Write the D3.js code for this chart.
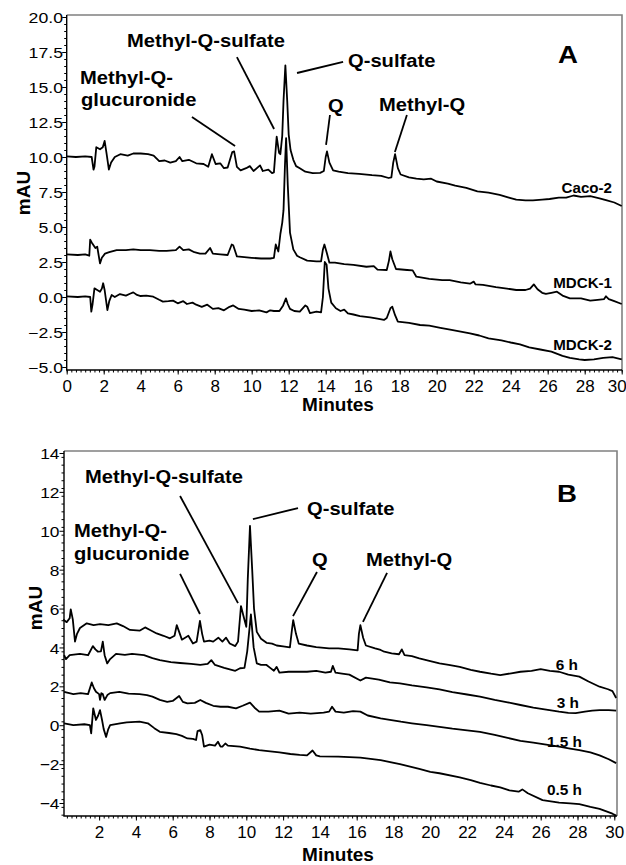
<!DOCTYPE html>
<html lang="en">
<head>
  <meta charset="UTF-8">
  <script src="https://d3js.org/d3.v7.min.js"></script>
  <title>Chromatograms</title>
  <style>
    body { margin: 0; background: #fff; }
    text { font-family: "Liberation Sans", Arial, sans-serif; fill: #000; }
  </style>
</head>
<body>
  <svg id="chart" width="626" height="865"></svg>
  <script>
    // ---- data: [minutes, mAU] ----
    const minuteTicksA = d3.range(0, 31, 2);
    const minuteTicksB = d3.range(2, 31, 2);
    const mauTicksA = [-5, -2.5, 0, 2.5, 5, 7.5, 10, 12.5, 15, 17.5, 20];
    const mauTicksB = [-4, -2, 0, 2, 4, 6, 8, 10, 12, 14];

    const caco2 = [[0,10.05],[0.5,10.0],[1.0,10.05],[1.35,10.0],[1.45,9.1],[1.5,9.3],[1.6,10.7],[1.8,10.55],[1.95,10.7],[2.05,11.15],[2.15,10.3],[2.28,9.1],[2.4,9.6],[2.6,10.0],[2.9,10.2],[3.3,10.1],[3.6,10.25],[4.0,10.25],[4.4,10.2],[4.7,10.1],[5.0,9.7],[5.3,9.75],[5.6,9.6],[5.9,9.7],[6.1,10.0],[6.25,9.7],[6.6,9.8],[7.0,9.55],[7.4,9.5],[7.65,9.3],[7.85,10.2],[8.05,9.5],[8.3,9.55],[8.5,9.2],[8.7,9.25],[8.95,10.35],[9.05,10.4],[9.2,9.3],[9.4,9.05],[9.7,9.2],[9.9,9.35],[10.1,9.0],[10.45,9.4],[10.6,9.0],[10.9,9.1],[11.1,8.85],[11.2,8.9],[11.35,11.45],[11.48,10.3],[11.55,10.2],[11.65,11.5],[11.72,14.0],[11.82,16.55],[11.92,14.0],[12.0,11.6],[12.1,10.5],[12.25,9.8],[12.4,9.35],[12.6,9.2],[12.9,8.95],[13.3,8.85],[13.7,8.87],[13.9,9.0],[14.0,10.0],[14.07,10.4],[14.2,9.6],[14.4,9.05],[14.7,8.95],[15.2,8.85],[15.8,8.8],[16.5,8.7],[17.0,8.65],[17.4,8.5],[17.55,8.55],[17.65,9.6],[17.75,10.2],[17.9,9.2],[18.05,8.75],[18.5,8.55],[18.9,8.45],[19.3,8.4],[19.7,8.45],[20.0,8.25],[20.6,8.1],[21.0,7.95],[21.6,7.8],[22.2,7.55],[22.8,7.45],[23.4,7.3],[23.9,7.1],[24.3,6.95],[24.8,6.9],[25.2,6.9],[25.7,6.95],[26.1,7.0],[26.6,7.1],[27.0,7.1],[27.4,7.25],[27.8,7.15],[28.3,7.2],[28.8,7.05],[29.2,6.9],[29.6,6.75],[30.0,6.5]];

    const mdck1 = [[0,3.05],[0.6,3.0],[1.0,3.05],[1.22,2.95],[1.27,4.1],[1.35,3.9],[1.55,3.5],[1.65,3.6],[1.8,2.4],[1.9,2.8],[2.07,3.1],[2.3,3.2],[2.7,3.35],[3.2,3.35],[3.6,3.4],[4.0,3.35],[4.5,3.35],[5.0,3.3],[5.4,3.3],[5.9,3.35],[6.1,3.6],[6.3,3.35],[6.6,3.4],[6.9,3.2],[7.2,3.1],[7.5,3.1],[7.75,3.5],[7.9,3.1],[8.3,3.05],[8.7,3.0],[8.92,3.75],[9.0,3.7],[9.2,2.9],[9.6,2.85],[10.0,2.8],[10.5,2.75],[11.0,2.75],[11.2,2.8],[11.3,3.75],[11.44,3.25],[11.55,4.5],[11.65,5.3],[11.72,6.2],[11.8,9.5],[11.86,11.35],[11.95,8.0],[12.07,4.6],[12.25,3.4],[12.45,2.95],[12.6,2.84],[13.0,2.6],[13.5,2.55],[13.75,2.55],[13.85,3.4],[13.93,3.75],[14.05,3.2],[14.2,2.45],[14.5,2.45],[15.0,2.35],[15.5,2.3],[16.2,2.16],[16.6,2.2],[16.8,1.95],[17.3,1.93],[17.42,2.6],[17.5,3.25],[17.6,2.7],[17.8,2.0],[18.4,1.93],[18.7,1.9],[18.9,1.45],[19.6,1.3],[20.3,1.2],[20.7,1.2],[21.3,1.05],[21.8,0.95],[22.0,1.1],[22.1,0.9],[22.5,0.86],[23.2,0.7],[23.8,0.6],[24.3,0.5],[24.8,0.5],[25.05,0.6],[25.25,0.9],[25.45,0.55],[25.7,0.3],[25.9,0.22],[26.2,0.3],[26.5,0.38],[26.8,0.1],[27.2,-0.1],[27.8,-0.1],[28.3,-0.26],[28.7,-0.2],[29.05,-0.15],[29.15,0.05],[29.3,-0.15],[29.6,-0.3],[30.0,-0.5]];

    const mdck2 = [[0,0.05],[0.6,0.0],[1.0,0.05],[1.27,0.0],[1.33,-1.05],[1.4,-0.5],[1.5,0.62],[1.65,0.5],[1.8,0.38],[1.9,0.6],[1.97,0.98],[2.05,0.5],[2.2,-0.93],[2.3,-0.3],[2.43,0.14],[2.6,0.0],[2.88,0.21],[3.2,0.1],[3.45,0.25],[3.6,0.33],[3.8,0.15],[4.0,0.07],[4.3,0.1],[4.68,0.02],[5.0,-0.2],[5.2,-0.33],[5.5,-0.3],[5.75,-0.26],[6.0,-0.45],[6.3,-0.3],[6.5,-0.5],[6.8,-0.4],[7.0,-0.55],[7.3,-0.7],[7.6,-0.55],[7.9,-0.85],[8.2,-0.8],[8.5,-0.95],[8.8,-0.7],[9.0,-0.6],[9.3,-0.85],[9.6,-0.9],[10.0,-1.0],[10.4,-0.95],[10.8,-1.1],[11.0,-0.95],[11.2,-1.0],[11.5,-1.0],[11.7,-0.6],[11.85,-0.1],[11.95,-0.5],[12.07,-0.85],[12.3,-1.0],[12.6,-1.05],[12.9,-0.6],[13.0,-0.69],[13.15,-1.15],[13.5,-1.05],[13.75,-1.1],[13.85,0.0],[13.95,2.5],[14.05,2.3],[14.15,0.6],[14.3,-0.4],[14.55,-0.8],[14.8,-1.0],[15.0,-0.9],[15.2,-1.17],[15.5,-1.25],[15.85,-1.36],[16.4,-1.45],[16.8,-1.55],[17.15,-1.64],[17.3,-1.5],[17.5,-0.8],[17.6,-0.69],[17.75,-1.3],[17.9,-1.76],[18.5,-1.85],[19.1,-2.0],[19.6,-2.05],[20.2,-2.2],[20.8,-2.35],[21.3,-2.48],[21.8,-2.6],[22.3,-2.75],[22.8,-2.95],[23.5,-3.1],[24.0,-3.25],[24.5,-3.38],[25.0,-3.6],[25.6,-3.75],[26.2,-3.9],[26.8,-4.2],[27.2,-4.35],[27.7,-4.45],[28.0,-4.5],[28.5,-4.45],[29.0,-4.35],[29.5,-4.3],[30.0,-4.45]];

    const sixH = [[0.05,5.44],[0.24,5.3],[0.4,5.5],[0.46,5.96],[0.57,5.44],[0.69,4.3],[0.8,4.7],[0.96,5.0],[1.33,5.24],[1.7,5.15],[2.05,5.2],[2.5,5.15],[2.96,5.24],[3.3,5.1],[3.68,4.9],[4.22,4.87],[4.5,5.03],[4.77,4.9],[5.13,4.72],[5.5,4.6],[5.85,4.47],[6.1,4.6],[6.22,5.15],[6.35,4.8],[6.5,4.4],[6.85,4.6],[7.1,4.2],[7.3,4.3],[7.48,5.37],[7.6,4.7],[7.7,4.3],[8.0,4.35],[8.2,4.3],[8.48,4.5],[8.7,4.3],[8.9,4.5],[9.1,4.2],[9.4,4.07],[9.55,4.3],[9.71,6.13],[9.85,5.6],[10.0,5.06],[10.08,7.5],[10.2,10.25],[10.32,8.0],[10.42,6.0],[10.57,4.8],[10.8,4.45],[11.1,4.24],[11.4,4.2],[11.65,4.1],[12.0,4.05],[12.37,4.0],[12.48,4.9],[12.55,5.4],[12.7,4.7],[12.85,4.2],[13.3,4.1],[13.8,4.02],[14.5,3.95],[15.0,3.95],[15.6,3.9],[16.05,3.85],[16.12,4.7],[16.2,5.15],[16.35,4.5],[16.5,4.1],[17.0,3.95],[17.3,3.87],[17.5,3.78],[17.9,3.7],[18.3,3.65],[18.45,3.9],[18.6,3.6],[19.0,3.55],[19.4,3.44],[20.0,3.3],[20.5,3.18],[21.0,3.1],[21.6,3.0],[22.2,2.85],[22.7,2.75],[23.3,2.65],[23.8,2.58],[24.4,2.67],[24.9,2.75],[25.5,2.8],[26.0,2.88],[26.5,2.8],[27.0,2.75],[27.5,2.6],[28.1,2.5],[28.6,2.25],[29.2,1.98],[29.66,1.85],[29.9,1.75],[30.1,1.4]];

    const threeH = [[0.1,3.6],[0.2,3.4],[0.4,3.6],[0.96,3.67],[1.4,3.6],[1.66,4.07],[1.8,3.9],[1.94,3.78],[2.1,3.8],[2.2,4.3],[2.3,3.6],[2.44,3.18],[2.6,3.4],[2.92,3.67],[3.4,3.62],[3.79,3.67],[4.44,3.6],[4.9,3.45],[5.3,3.35],[5.9,3.25],[6.4,3.2],[7.0,3.15],[7.5,3.1],[7.9,3.15],[8.1,3.35],[8.3,3.1],[8.8,2.95],[9.4,2.8],[9.66,2.93],[9.9,2.95],[10.05,3.8],[10.25,5.7],[10.4,4.0],[10.57,3.18],[10.8,3.1],[11.1,3.1],[11.3,2.95],[11.5,2.8],[11.65,3.0],[11.8,2.7],[12.3,2.75],[12.9,2.75],[13.3,2.75],[13.8,2.8],[14.3,2.7],[14.6,2.75],[14.7,3.05],[14.85,2.7],[15.2,2.65],[15.6,2.6],[16.2,2.3],[16.5,2.45],[17.2,2.35],[17.8,2.2],[18.35,2.15],[19.0,2.05],[19.8,1.95],[20.5,1.84],[21.2,1.7],[22.0,1.58],[22.7,1.47],[23.5,1.3],[24.2,1.18],[24.9,1.04],[25.6,0.9],[26.3,0.8],[27.0,0.7],[27.5,0.64],[27.9,0.62],[28.4,0.7],[28.8,0.75],[29.2,0.78],[29.7,0.78],[30.1,0.75]];

    const oneHalfH = [[0.1,1.72],[0.6,1.6],[1.0,1.65],[1.4,1.6],[1.6,2.2],[1.72,1.9],[1.83,1.72],[2.0,1.6],[2.05,1.3],[2.12,1.65],[2.2,1.6],[2.3,1.3],[2.45,1.55],[2.6,1.65],[3.1,1.72],[3.6,1.62],[4.2,1.6],[4.6,1.55],[4.9,1.47],[5.3,1.3],[5.7,1.2],[6.0,1.25],[6.35,1.5],[6.55,1.2],[6.8,1.12],[7.2,1.15],[7.5,1.3],[7.8,1.15],[8.2,1.0],[8.6,0.95],[9.0,0.95],[9.44,0.87],[9.8,1.0],[10.2,1.16],[10.45,0.9],[10.7,0.7],[11.2,0.7],[11.8,0.75],[12.3,0.6],[12.9,0.65],[13.5,0.6],[14.2,0.65],[14.5,0.7],[14.66,0.95],[14.85,0.7],[15.3,0.65],[15.8,0.72],[16.2,0.7],[16.6,0.5],[17.3,0.35],[17.8,0.28],[18.4,0.18],[19.0,0.1],[19.8,0.0],[20.5,-0.08],[21.2,-0.18],[22.0,-0.26],[22.7,-0.34],[23.5,-0.5],[24.2,-0.65],[24.9,-0.8],[25.6,-0.9],[26.3,-1.0],[27.0,-1.1],[27.6,-1.2],[28.1,-1.28],[28.7,-1.4],[29.2,-1.55],[29.7,-1.75],[30.1,-1.95]];

    const halfH = [[0.1,0.1],[0.6,0.0],[1.2,0.05],[1.5,0.0],[1.57,-0.42],[1.68,0.87],[1.83,0.27],[1.95,0.5],[2.05,0.78],[2.16,0.27],[2.25,-0.2],[2.38,-0.6],[2.5,-0.2],[2.6,0.0],[3.14,0.1],[3.5,0.15],[4.2,0.18],[4.65,0.1],[5.0,-0.15],[5.3,-0.34],[5.8,-0.4],[6.2,-0.46],[6.5,-0.55],[6.8,-0.68],[7.1,-0.7],[7.27,-0.76],[7.35,-0.3],[7.5,-0.25],[7.6,-0.5],[7.7,-1.1],[8.0,-1.0],[8.3,-1.05],[8.46,-0.85],[8.6,-1.1],[8.7,-1.1],[8.86,-0.94],[9.0,-1.05],[9.66,-1.1],[10.2,-1.2],[10.7,-1.28],[11.3,-1.35],[11.8,-1.4],[12.4,-1.48],[12.9,-1.53],[13.3,-1.55],[13.6,-1.3],[13.8,-1.55],[14.0,-1.6],[15.0,-1.62],[16.2,-1.67],[17.3,-1.8],[18.35,-2.0],[19.4,-2.25],[20.0,-2.4],[20.5,-2.47],[21.6,-2.68],[22.2,-2.82],[22.7,-2.96],[23.3,-3.1],[23.8,-3.2],[24.3,-3.35],[24.8,-3.42],[25.0,-3.3],[25.3,-3.5],[26.1,-3.85],[27.0,-3.98],[27.6,-4.02],[28.1,-4.06],[28.7,-4.2],[29.2,-4.3],[29.9,-4.55],[30.1,-4.65]];

    // peak annotations: label lines in data units [t1, v1, t2, v2]
    const leadersA = [[6.77,12.86,9.10,10.79],[9.2,17.14,11.21,12.0],[12.45,16.0,14.94,16.79],[14.23,13.0,14.02,10.86],[18.39,13.0,17.74,10.36]];
    const leadersB = [[6.40,7.78,7.48,5.72],[6.40,11.79,9.55,6.28],[12.81,11.17,10.36,10.6],[13.84,7.88,12.54,5.61],[17.65,7.83,16.34,5.31]];

    const FONT = '"Liberation Sans", Arial, sans-serif';
    const svg = d3.select("#chart");
    svg.append("rect").attr("width", 626).attr("height", 865).attr("fill", "#fff");

    const text = (x, y, str, size, sx, anchor, weight) => {
      return svg.append("text")
        .attr("transform", `translate(${x},${y}) scale(${sx},1)`)
        .attr("text-anchor", anchor || "start")
        .style("font", `${weight || "bold"} ${size}px ${FONT}`)
        .text(str);
    };

    function drawPanel(p) {
      const x = d3.scaleLinear().domain([0, 30]).range(p.xRange);
      const y = d3.scaleLinear().domain(p.yDomain).range(p.yRange);
      const g = svg.append("g");

      // grey frame on top / right
      g.append("path")
        .attr("d", `M${p.left},${p.top}H${p.right}V${p.bottom}`)
        .attr("fill", "none").attr("stroke", "#808080").attr("stroke-width", 1.6);

      // minor ticks
      g.append("g").attr("transform", `translate(${p.left},0)`)
        .call(d3.axisLeft(y).tickValues(p.yMinor).tickSize(2.5).tickFormat(""))
        .call(a => a.select(".domain").remove());
      g.append("g").attr("transform", `translate(0,${p.bottom})`)
        .call(d3.axisBottom(x).tickValues(d3.range(p.xMin0, 30.01, 0.25)).tickSize(2.5).tickFormat(""))
        .call(a => a.select(".domain").remove());

      // major ticks + labels
      const ya = g.append("g").attr("transform", `translate(${p.left},0)`)
        .call(d3.axisLeft(y).tickValues(p.yTicks).tickSize(4.5).tickFormat(p.yFmt))
        .call(a => a.select(".domain").remove());
      ya.selectAll(".tick text")
        .attr("x", -p.yGap / p.ySx).attr("dy", "0.36em")
        .attr("transform", `scale(${p.ySx},1)`)
        .style("font", `${p.ySize}px ${FONT}`);
      const xa = g.append("g").attr("transform", `translate(0,${p.bottom})`)
        .call(d3.axisBottom(x).tickValues(p.xTicks).tickSize(4.5))
        .call(a => a.select(".domain").remove());
      xa.selectAll(".tick text").attr("y", p.xLabelDy).attr("dy", 0)
        .style("font", `17px ${FONT}`);
      // keep the last minute label inside the page
      xa.selectAll(".tick text").filter(d => d === 30).attr("x", p.lastDx);
      g.selectAll(".tick line").attr("stroke", "#000").attr("stroke-width", 1);

      // black axes
      g.append("path")
        .attr("d", `M${p.left},${p.top}V${p.bottom}H${p.right}`)
        .attr("fill", "none").attr("stroke", "#000").attr("stroke-width", 1.4);

      const line = d3.line().x(d => x(d[0])).y(d => y(d[1]));
      p.traces.forEach(tr => {
        g.append("path").datum(tr).attr("d", line)
          .attr("fill", "none").attr("stroke", "#000")
          .attr("stroke-width", 1.8).attr("stroke-linejoin", "round");
      });

      g.selectAll("line.leader").data(p.leaders).enter().append("line")
        .attr("class", "leader")
        .attr("x1", d => x(d[0])).attr("y1", d => y(d[1]))
        .attr("x2", d => x(d[2])).attr("y2", d => y(d[3]))
        .attr("stroke", "#000").attr("stroke-width", 1.8);
    }

    drawPanel({
      left: 66.7, right: 622, top: 15, bottom: 370,
      xRange: [66.7, 621.7], xMin0: 0, xTicks: minuteTicksA, xLabelDy: 21.7, lastDx: -5,
      yDomain: [-5, 20], yRange: [367, 17],
      yTicks: mauTicksA, yMinor: d3.range(-5, 20.01, 0.5), yFmt: d3.format(".1f"),
      ySize: 14.5, ySx: 1.22, yGap: 3.7,
      traces: [caco2, mdck1, mdck2], leaders: leadersA
    });

    drawPanel({
      left: 64, right: 617, top: 451, bottom: 816,
      xRange: [62.3, 614.3], xMin0: 0.25, xTicks: minuteTicksB, xLabelDy: 22.3, lastDx: 0,
      yDomain: [-4, 14], yRange: [803, 453],
      yTicks: mauTicksB, yMinor: d3.range(-4.6, 14.01, 0.4).map(v => +v.toFixed(1)), yFmt: d3.format("d"),
      ySize: 15.5, ySx: 1.12, yGap: 4.5,
      traces: [sixH, threeH, oneHalfH, halfH], leaders: leadersB
    });

    // axis titles
    text(338, 411, "Minutes", 19, 1.0, "middle");
    text(338, 861, "Minutes", 19, 1.0, "middle");
    svg.append("text").attr("transform", "translate(30,193) rotate(-90)")
      .attr("text-anchor", "middle").style("font", `bold 19px ${FONT}`).text("mAU");
    svg.append("text").attr("transform", "translate(42,608) rotate(-90)")
      .attr("text-anchor", "middle").style("font", `bold 19px ${FONT}`).text("mAU");

    // panel A labels
    text(127, 47, "Methyl-Q-sulfate", 18, 1.12);
    text(80, 84, "Methyl-Q-", 18, 1.12);
    text(81, 106, "glucuronide", 18, 1.12);
    text(348, 67, "Q-sulfate", 18, 1.12);
    text(328, 112, "Q", 18, 1.12);
    text(379, 111, "Methyl-Q", 18, 1.12);
    text(558, 63, "A", 24, 1.15);
    text(612, 193, "Caco-2", 14, 1.08, "end");
    text(612, 288, "MDCK-1", 14, 1.08, "end");
    text(612, 350, "MDCK-2", 14, 1.08, "end");

    // panel B labels
    text(85, 483, "Methyl-Q-sulfate", 18, 1.12);
    text(74, 537, "Methyl-Q-", 18, 1.12);
    text(74, 560, "glucuronide", 18, 1.12);
    text(307, 515, "Q-sulfate", 18, 1.12);
    text(312, 566, "Q", 18, 1.12);
    text(366, 566, "Methyl-Q", 18, 1.12);
    text(557, 502, "B", 24, 1.15);
    text(578, 670, "6 h", 14, 1.1, "end");
    text(579, 708, "3 h", 14, 1.1, "end");
    text(582, 747, "1.5 h", 14, 1.1, "end");
    text(582, 795, "0.5 h", 14, 1.1, "end");
  </script>
</body>
</html>
